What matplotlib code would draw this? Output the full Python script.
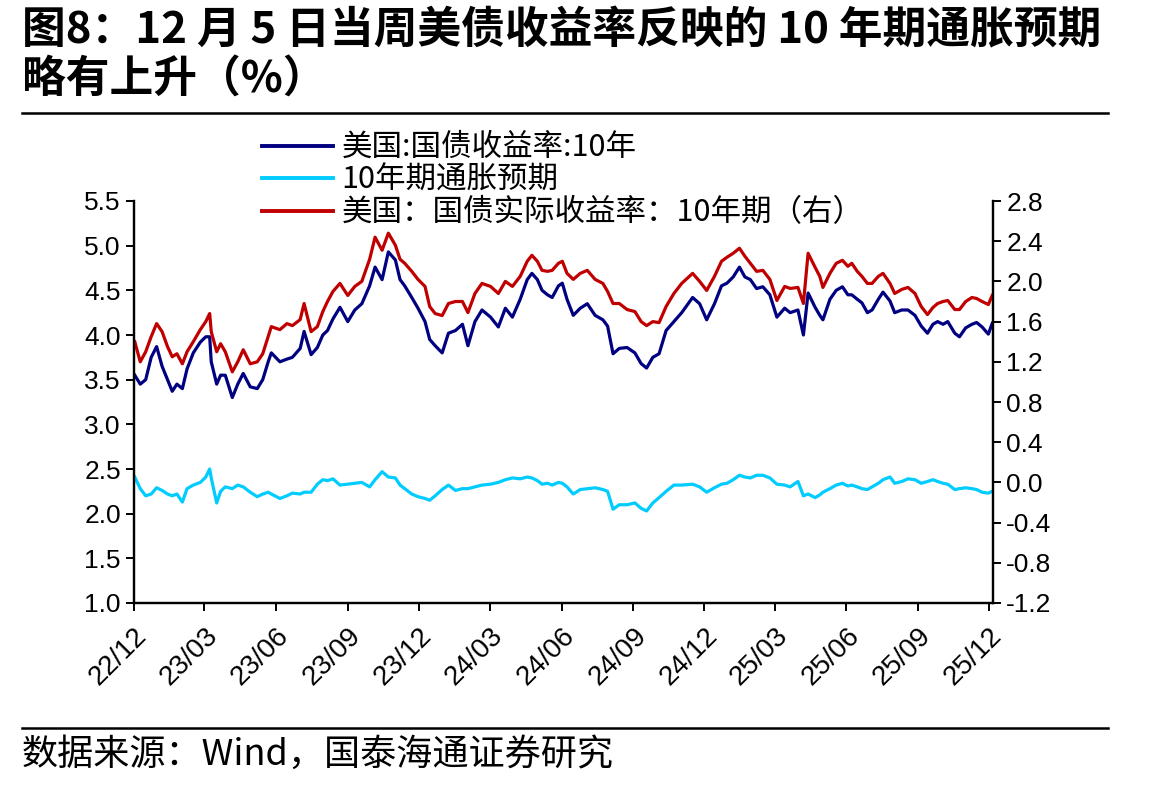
import matplotlib
matplotlib.use("Agg")
import matplotlib.pyplot as plt
import matplotlib.dates as mdates
import pandas as pd
from matplotlib.lines import Line2D
from matplotlib.ticker import FormatStrFormatter, MultipleLocator

plt.rcParams['axes.unicode_minus'] = False

# data (weekly-ish samples)
dates = [
    "2022-12-02", "2022-12-09", "2022-12-16", "2022-12-23", "2022-12-30",
    "2023-01-06", "2023-01-13", "2023-01-19", "2023-01-25", "2023-02-01",
    "2023-02-07", "2023-02-15", "2023-02-24", "2023-03-03", "2023-03-08",
    "2023-03-10", "2023-03-17", "2023-03-22", "2023-03-28", "2023-04-06",
    "2023-04-13", "2023-04-20", "2023-04-29", "2023-05-08", "2023-05-15",
    "2023-05-22", "2023-05-26", "2023-06-06", "2023-06-15", "2023-06-22",
    "2023-07-02", "2023-07-07", "2023-07-16", "2023-07-24", "2023-07-31",
    "2023-08-06", "2023-08-13", "2023-08-22", "2023-09-01", "2023-09-10",
    "2023-09-19", "2023-09-29", "2023-10-06", "2023-10-15", "2023-10-23",
    "2023-11-01", "2023-11-07", "2023-11-13", "2023-11-22", "2023-11-30",
    "2023-12-09", "2023-12-15", "2023-12-22", "2023-12-31", "2024-01-08",
    "2024-01-17", "2024-01-26", "2024-02-02", "2024-02-11", "2024-02-20",
    "2024-03-02", "2024-03-12", "2024-03-21", "2024-03-30", "2024-04-09",
    "2024-04-18", "2024-04-24", "2024-05-01", "2024-05-07", "2024-05-14",
    "2024-05-20", "2024-05-28", "2024-06-02", "2024-06-08", "2024-06-16",
    "2024-06-25", "2024-07-04", "2024-07-14", "2024-07-24", "2024-07-30",
    "2024-08-06", "2024-08-14", "2024-08-24", "2024-09-03", "2024-09-11",
    "2024-09-18", "2024-09-26", "2024-10-04", "2024-10-13", "2024-10-23",
    "2024-11-02", "2024-11-16", "2024-11-25", "2024-12-04", "2024-12-14",
    "2024-12-23", "2024-12-30", "2025-01-07", "2025-01-15", "2025-01-22",
    "2025-01-29", "2025-02-06", "2025-02-14", "2025-02-23", "2025-03-04",
    "2025-03-14", "2025-03-21", "2025-03-31", "2025-04-07", "2025-04-13",
    "2025-04-22", "2025-04-28", "2025-05-02", "2025-05-11", "2025-05-19",
    "2025-05-27", "2025-06-03", "2025-06-08", "2025-06-15", "2025-06-21",
    "2025-06-28", "2025-07-04", "2025-07-12", "2025-07-18", "2025-07-27",
    "2025-08-02", "2025-08-11", "2025-08-19", "2025-08-28", "2025-09-05",
    "2025-09-13", "2025-09-20", "2025-09-26", "2025-10-03", "2025-10-09",
    "2025-10-18", "2025-10-24", "2025-11-01", "2025-11-09", "2025-11-15",
    "2025-11-22", "2025-11-30", "2025-12-05",
]

us10y = [
    3.55, 3.45, 3.50, 3.75, 3.87, 3.65, 3.50, 3.37, 3.45, 3.40,
    3.62, 3.80, 3.92, 3.98, 3.98, 3.70, 3.45, 3.55, 3.55, 3.30,
    3.45, 3.57, 3.42, 3.40, 3.50, 3.70, 3.80, 3.70, 3.73, 3.75,
    3.85, 4.04, 3.78, 3.86, 4.00, 4.05, 4.18, 4.31, 4.15, 4.28,
    4.35, 4.55, 4.76, 4.62, 4.93, 4.84, 4.62, 4.55, 4.42, 4.30,
    4.15, 3.95, 3.88, 3.80, 4.02, 4.05, 4.12, 3.88, 4.15, 4.28,
    4.20, 4.09, 4.30, 4.20, 4.40, 4.62, 4.69, 4.62, 4.50, 4.45,
    4.42, 4.55, 4.58, 4.40, 4.22, 4.30, 4.35, 4.22, 4.17, 4.10,
    3.79, 3.85, 3.86, 3.80, 3.68, 3.63, 3.75, 3.79, 4.05, 4.15,
    4.25, 4.42, 4.35, 4.17, 4.35, 4.55, 4.58, 4.65, 4.76, 4.65,
    4.62, 4.52, 4.54, 4.45, 4.20, 4.30, 4.25, 4.28, 4.00, 4.47,
    4.31, 4.22, 4.17, 4.40, 4.50, 4.54, 4.45, 4.45, 4.40, 4.36,
    4.25, 4.28, 4.40, 4.48, 4.38, 4.25, 4.28, 4.28, 4.22, 4.10,
    4.02, 4.12, 4.15, 4.12, 4.15, 4.02, 3.98, 4.08, 4.12, 4.14,
    4.09, 4.01, 4.13,
]

breakeven = [
    2.41, 2.28, 2.20, 2.22, 2.29, 2.26, 2.22, 2.20, 2.22, 2.13,
    2.28, 2.32, 2.35, 2.41, 2.50, 2.40, 2.12, 2.25, 2.30, 2.28,
    2.32, 2.30, 2.24, 2.19, 2.22, 2.24, 2.22, 2.17, 2.20, 2.23,
    2.22, 2.24, 2.24, 2.33, 2.38, 2.37, 2.39, 2.32, 2.33, 2.34,
    2.35, 2.30, 2.38, 2.47, 2.41, 2.40, 2.32, 2.28, 2.22, 2.19,
    2.17, 2.15, 2.20, 2.27, 2.32, 2.26, 2.28, 2.28, 2.30, 2.32,
    2.33, 2.35, 2.38, 2.40, 2.39, 2.41, 2.40, 2.37, 2.33, 2.34,
    2.32, 2.35, 2.34, 2.30, 2.22, 2.27, 2.28, 2.29, 2.27, 2.25,
    2.05, 2.10, 2.10, 2.12, 2.06, 2.03, 2.12, 2.18, 2.25, 2.32,
    2.32, 2.33, 2.30, 2.24, 2.29, 2.33, 2.34, 2.38, 2.43, 2.41,
    2.40, 2.43, 2.43, 2.40, 2.33, 2.32, 2.30, 2.36, 2.20, 2.22,
    2.18, 2.21, 2.24, 2.28, 2.32, 2.34, 2.31, 2.32, 2.30, 2.28,
    2.27, 2.30, 2.34, 2.38, 2.41, 2.34, 2.36, 2.39, 2.38, 2.34,
    2.36, 2.38, 2.36, 2.34, 2.33, 2.27, 2.28, 2.29, 2.28, 2.27,
    2.24, 2.23, 2.25,
]

real10y = [
    1.40, 1.20, 1.30, 1.45, 1.58, 1.50, 1.35, 1.25, 1.28, 1.18,
    1.30, 1.40, 1.52, 1.60, 1.68, 1.50, 1.30, 1.38, 1.30, 1.10,
    1.20, 1.32, 1.18, 1.20, 1.28, 1.45, 1.55, 1.52, 1.58, 1.56,
    1.62, 1.78, 1.50, 1.55, 1.70, 1.80, 1.90, 1.98, 1.86, 1.95,
    2.00, 2.22, 2.44, 2.31, 2.48, 2.36, 2.22, 2.18, 2.10, 2.02,
    1.95, 1.75, 1.68, 1.66, 1.78, 1.80, 1.80, 1.69, 1.88, 1.98,
    1.95, 1.88, 2.00, 1.95, 2.05, 2.20, 2.26, 2.20, 2.11, 2.10,
    2.11, 2.18, 2.20, 2.08, 2.02, 2.08, 2.11, 2.02, 1.98, 1.90,
    1.78, 1.78, 1.72, 1.70, 1.60, 1.56, 1.60, 1.59, 1.75, 1.88,
    1.98, 2.08, 2.00, 1.91, 2.05, 2.20, 2.24, 2.28, 2.33, 2.25,
    2.18, 2.10, 2.11, 2.02, 1.81, 1.95, 1.93, 1.94, 1.78, 2.28,
    2.14, 2.05, 1.94, 2.08, 2.18, 2.21, 2.15, 2.18, 2.10, 2.05,
    1.98, 1.98, 2.05, 2.08, 1.98, 1.88, 1.92, 1.94, 1.88, 1.75,
    1.67, 1.74, 1.78, 1.80, 1.81, 1.72, 1.72, 1.80, 1.84, 1.83,
    1.80, 1.77, 1.86,
]

labels = ["美国:国债收益率:10年", "10年期通胀预期", "美国：国债实际收益率：10年期（右）"]
colors = ["#000080", "#00CCFF", "#C00000"]

x = pd.to_datetime(dates)
cjk = ["Noto Sans CJK SC", "DejaVu Sans"]
num = "Liberation Sans"

fig = plt.figure(figsize=(11.56, 7.88), dpi=100)
ax = fig.add_axes([134 / 1156, 1 - 603 / 788, 859 / 1156, 402 / 788])
ax2 = ax.twinx()

ax.plot(x, us10y, color=colors[0], lw=2.3)
ax.plot(x, breakeven, color=colors[1], lw=2.3)
ax2.plot(x, real10y, color=colors[2], lw=2.3)

ax.set_ylim(1.0, 5.5)
ax.yaxis.set_major_locator(MultipleLocator(0.5))
ax.yaxis.set_major_formatter(FormatStrFormatter("%.1f"))
ax2.set_ylim(-1.2, 2.8)
ax2.yaxis.set_major_locator(MultipleLocator(0.4))
ax2.yaxis.set_major_formatter(FormatStrFormatter("%.1f"))

ax.set_xlim(pd.Timestamp("2022-12-01"), pd.Timestamp("2025-12-06"))
ax.set_xticks(pd.date_range("2022-12-01", "2025-12-01", freq="3MS"))
ax.xaxis.set_major_formatter(mdates.DateFormatter("%y/%m"))

for a in (ax, ax2):
    a.spines["top"].set_visible(False)
    for s in ("left", "right", "bottom"):
        a.spines[s].set_linewidth(1.6)
    a.tick_params(direction="out", length=6, width=1.4, labelsize=19)
    for lab in a.get_yticklabels():
        lab.set_fontfamily(num)
for lab in ax.get_xticklabels():
    lab.set_fontfamily(num)
    lab.set_fontsize(20)
    lab.set_rotation(45)
    lab.set_ha("right")
    lab.set_va("top")
    lab.set_rotation_mode("anchor")
ax.tick_params(axis="x", pad=8)

handles = [Line2D([], [], color=c, lw=2.8) for c in colors]
leg = ax.legend(handles, labels, loc="upper left", bbox_to_anchor=(247 / 1156, 1 - 117 / 788),
                bbox_transform=fig.transFigure, frameon=False, handlelength=2.3,
                handletextpad=0.3, labelspacing=0.05, borderpad=0,
                prop={"family": cjk, "size": 22})
leg.set_zorder(5)

# title, rules and source
fig.text(22 / 1156, 1 - 30 / 788, "图8：12 月 5 日当周美债收益率反映的 10 年期通胀预期",
         family=cjk, fontsize=31.5, fontweight="bold", va="center", ha="left")
fig.text(22 / 1156, 1 - 80 / 788, "略有上升（%）",
         family=cjk, fontsize=31.5, fontweight="bold", va="center", ha="left")
fig.add_artist(Line2D([22 / 1156, 1108 / 1156], [1 - 113 / 788] * 2, color="black", lw=1.8))
fig.add_artist(Line2D([22 / 1156, 1108 / 1156], [1 - 728 / 788] * 2, color="black", lw=1.8))
fig.text(22 / 1156, 1 - 755 / 788, "数据来源：Wind，国泰海通证券研究",
         family=cjk, fontsize=26, va="center", ha="left")

fig.savefig("out.png", dpi=100)
